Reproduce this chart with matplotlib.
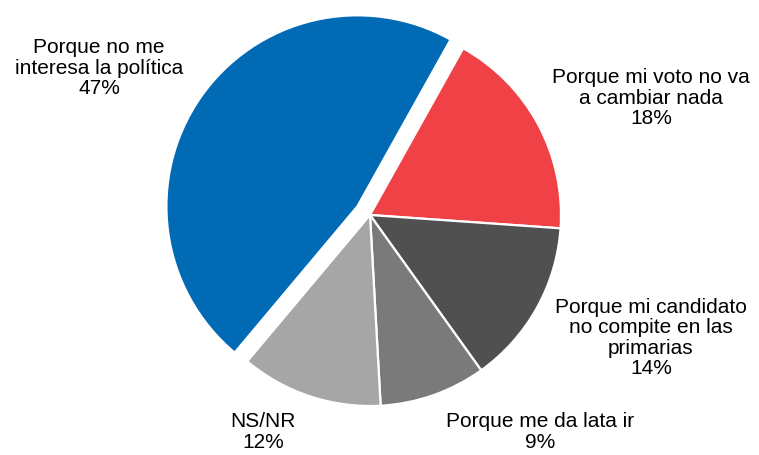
import matplotlib
matplotlib.use("Agg")
import matplotlib.pyplot as plt

labels = ["Porque no me\ninteresa la política",
          "Porque mi voto no va\na cambiar nada",
          "Porque mi candidato\nno compite en las\nprimarias",
          "Porque me da lata ir",
          "NS/NR"]
values = [47, 18, 14, 9, 12]
colors = ["#006AB4", "#EF4146", "#505050", "#7A7A7A", "#A6A6A6"]
explode = [0.08, 0, 0, 0, 0]

W, H = 759, 455
R = 191.0
cx, cy = 370.0, 455 - 215.0

fig = plt.figure(figsize=(W / 100, H / 100), dpi=100)
ax = fig.add_axes([0, 0, 1, 1])
ax.pie(values, colors=colors, explode=explode, startangle=230, counterclock=False,
       radius=1, wedgeprops=dict(edgecolor="white", linewidth=1.6))
ax.set_xlim(-cx / R, (W - cx) / R)
ax.set_ylim(-cy / R, (H - cy) / R)
ax.set_aspect("equal")
ax.axis("off")

# label positions in pixel coordinates (from top-left)
label_pos = [(99, 68), (651, 98), (651, 338), (540, 432), (263, 432)]
for lab, v, (px, py) in zip(labels, values, label_pos):
    x = (px - cx) / R
    y = ((H - py) - cy) / R
    ax.text(x, y, f"{lab}\n{v}%", ha="center", va="center", fontsize=15,
            family="Liberation Sans", linespacing=1.1, color="black")

fig.savefig("out.png", dpi=100)
